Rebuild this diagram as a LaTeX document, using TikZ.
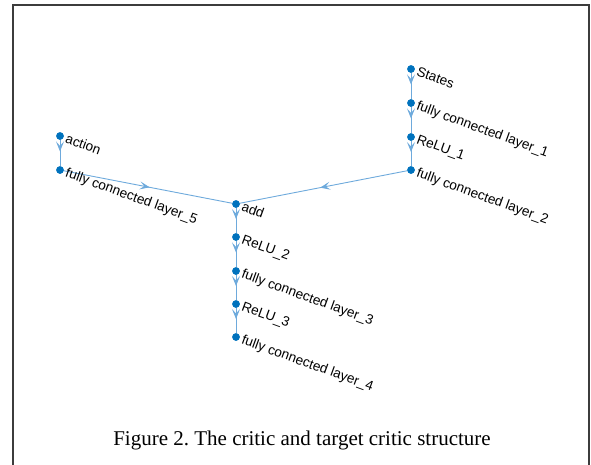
\documentclass[tikz,border=0pt]{standalone}
\usepackage{fontspec}
\setmainfont{Liberation Serif}
\newfontfamily\labfont{Liberation Sans}
\usetikzlibrary{arrows.meta,decorations.markings}
\definecolor{mblue}{RGB}{0,114,189}
\definecolor{eblue}{RGB}{110,170,220}
\definecolor{framegray}{RGB}{60,60,60}
\tikzset{
  x=1pt,y=-1pt,
  gnode/.style={circle,fill=mblue,inner sep=0pt,minimum size=7.5pt},
  glabel/.style={font=\labfont\fontsize{13.6}{15}\selectfont,rotate=-20,anchor=north west,inner sep=0pt,text=black},
  gedge/.style={draw=eblue,line width=0.9pt,
    postaction={decorate},
    decoration={markings,mark=at position #1 with {\arrow[eblue]{Stealth[length=10pt,width=8pt,inset=4.5pt]}}}},
  gedge/.default=0.44,
}
\begin{document}
\frenchspacing
\begin{tikzpicture}
\useasboundingbox (0,0) rectangle (591,464);
\draw[framegray,line width=1.6pt] (13,470) -- (13,5) -- (589,5) -- (589,470);
% nodes
\node[gnode] (st) at (411,69) {};
\node[gnode] (fc1) at (411,103) {};
\node[gnode] (r1) at (411,137) {};
\node[gnode] (fc2) at (411,170) {};
\node[gnode] (ac) at (60,136) {};
\node[gnode] (fc5) at (60,170) {};
\node[gnode] (add) at (236,204) {};
\node[gnode] (r2) at (236,237) {};
\node[gnode] (fc3) at (236,271) {};
\node[gnode] (r3) at (236,304) {};
\node[gnode] (fc4) at (236,337) {};
% edges
\path[gedge] (st) -- (fc1);
\path[gedge] (fc1) -- (r1);
\path[gedge] (r1) -- (fc2);
\path[gedge] (ac) -- (fc5);
\path[gedge=0.51] (fc5) -- (add);
\path[gedge=0.52] (fc2) -- (add);
\path[gedge] (add) -- (r2);
\path[gedge] (r2) -- (fc3);
\path[gedge] (fc3) -- (r3);
\path[gedge] (r3) -- (fc4);
% redraw dots over edges
\foreach \n in {st,fc1,r1,fc2,ac,fc5,add,r2,fc3,r3,fc4} {\fill[mblue] (\n.center) circle (3.75pt);}
% labels
\node[glabel] (lst) at ([shift={(8,-3)}]st.center) {States};
\node[glabel] (lfc1) at ([shift={(8,-3)}]fc1.center) {fully connected layer\_1};
\node[glabel] (lr1) at ([shift={(8,-3)}]r1.center) {ReLU\_1};
\node[glabel] (lfc2) at ([shift={(8,-3)}]fc2.center) {fully connected layer\_2};
\node[glabel] (lac) at ([shift={(8,-3)}]ac.center) {action};
\node[glabel] (lfc5) at ([shift={(8,-3)}]fc5.center) {fully connected layer\_5};
\node[glabel] (ladd) at ([shift={(8,-3)}]add.center) {add};
\node[glabel] (lr2) at ([shift={(8,-3)}]r2.center) {ReLU\_2};
\node[glabel] (lfc3) at ([shift={(8,-3)}]fc3.center) {fully connected layer\_3};
\node[glabel] (lr3) at ([shift={(8,-3)}]r3.center) {ReLU\_3};
\node[glabel] (lfc4) at ([shift={(8,-3)}]fc4.center) {fully connected layer\_4};
% caption
\node[font=\fontsize{21}{24}\selectfont,anchor=base] (cap) at (302,445) {Figure 2. The critic and target critic structure};
\end{tikzpicture}
\end{document}
